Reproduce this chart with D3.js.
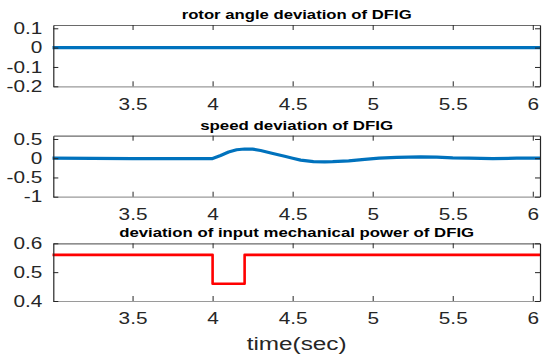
<!DOCTYPE html>
<html>
<head>
<meta charset="utf-8">
<script src="https://cdn.jsdelivr.net/npm/d3@7"></script>
<style>
  body { margin: 0; background: #fff; }
  svg { display: block; }
</style>
</head>
<body>
<svg width="543" height="355"></svg>
<script>
const svg = d3.select("svg");

// DATA
const xTicks = [3.5, 4, 4.5, 5, 5.5, 6];
const xTickLabels = ["3.5", "4", "4.5", "5", "5.5", "6"];

const angleTime = [3.0, 3.5, 4.0, 4.5, 5.0, 5.5, 6.05];
const angleDev = [0, 0, 0, 0, 0, 0, 0];
const angleTicks = [0.1, 0, -0.1, -0.2];
const angleTickLabels = ["0.1", "0", "-0.1", "-0.2"];

const speedTime = [3.0, 3.5, 3.9, 4.0, 4.05, 4.1, 4.15, 4.2, 4.25, 4.3, 4.37, 4.45, 4.5,
  4.55, 4.63, 4.7, 4.75, 4.85, 4.95, 5.04, 5.15, 5.3, 5.4, 5.5, 5.6, 5.75, 5.9, 6.05];
const speedDev = [0, -0.01, -0.01, -0.01, 0.07, 0.16, 0.22, 0.24, 0.235, 0.2, 0.13, 0.05, 0.0,
  -0.05, -0.09, -0.095, -0.09, -0.07, -0.03, 0.0, 0.02, 0.035, 0.03, 0.01, 0.0, -0.01, 0.0, 0.0];
const speedTicks = [0.5, 0, -0.5, -1];
const speedTickLabels = ["0.5", "0", "-0.5", "-1"];

const powerTime = [3.0, 4.0, 4.0, 4.2, 4.2, 6.05];
const powerDev = [0.56, 0.56, 0.46, 0.46, 0.56, 0.56];
const powerTicks = [0.6, 0.5, 0.4];
const powerTickLabels = ["0.6", "0.5", "0.4"];

const panels = [
  { title: "rotor angle deviation of DFIG", titleLen: 230, t: angleTime, v: angleDev,
    yDomain: [-0.2, 0.117], ticks: angleTicks, labels: angleTickLabels,
    top: 25, bottom: 86.3, color: "#0072BD", width: 3.2 },
  { title: "speed deviation of DFIG", titleLen: 193, t: speedTime, v: speedDev,
    yDomain: [-1, 0.585], ticks: speedTicks, labels: speedTickLabels,
    top: 135.7, bottom: 196.7, color: "#0072BD", width: 3.2 },
  { title: "deviation of input mechanical power of DFIG", titleLen: 355, t: powerTime, v: powerDev,
    yDomain: [0.4, 0.6], ticks: powerTicks, labels: powerTickLabels,
    top: 243.3, bottom: 301, color: "#FF0000", width: 2.6 }
];

const left = 53.3;
const right = 540;
const sx = 1.3; // text in the reference is stretched horizontally
const font = "'Liberation Sans', Arial, Helvetica, sans-serif";

const x = d3.scaleLinear().domain([3.005, 6.045]).range([left, right]);

panels.forEach(p => {
  const y = d3.scaleLinear().domain(p.yDomain).range([p.bottom, p.top]);
  const g = svg.append("g");

  // LINE
  g.append("path")
    .datum(p.t.map((t, i) => [t, p.v[i]]))
    .attr("fill", "none")
    .attr("stroke", p.color)
    .attr("stroke-width", p.width)
    .attr("stroke-linejoin", "round")
    .attr("d", d3.line().x(d => x(d[0])).y(d => y(d[1])));

  // AXES (box, ticks inward)
  const bottomAx = g.append("g")
    .attr("transform", `translate(0,${p.bottom})`)
    .call(d3.axisBottom(x).tickValues(xTicks).tickFormat((d, i) => xTickLabels[i])
      .tickSizeInner(-5).tickSizeOuter(0).tickPadding(12));
  bottomAx.select(".domain").attr("stroke", "#9a9a9a").attr("stroke-width", 1.2);

  const topAx = g.append("g")
    .attr("transform", `translate(0,${p.top})`)
    .call(d3.axisTop(x).tickValues(xTicks).tickFormat("")
      .tickSizeInner(-5).tickSizeOuter(0));
  topAx.select(".domain").attr("stroke", "#6a6a6a").attr("stroke-width", 1.2);

  const leftAx = g.append("g")
    .attr("transform", `translate(${left},0)`)
    .call(d3.axisLeft(y).tickValues(p.ticks).tickFormat((d, i) => p.labels[i])
      .tickSizeInner(-5).tickSizeOuter(0).tickPadding(11));

  const rightAx = g.append("g")
    .attr("transform", `translate(${right},0)`)
    .call(d3.axisRight(y).tickValues(p.ticks).tickFormat("")
      .tickSizeInner(-5).tickSizeOuter(0));

  [bottomAx, topAx, leftAx, rightAx].forEach(ax => {
    ax.selectAll(".tick line").attr("stroke", "#262626");
    ax.selectAll("text").attr("font-family", font).attr("font-size", 16).attr("fill", "#262626");
  });
  leftAx.select(".domain").attr("stroke", "#262626").attr("stroke-width", 1.2);
  rightAx.select(".domain").attr("stroke", "#262626").attr("stroke-width", 1.2);

  // stretch tick labels horizontally like the reference
  bottomAx.selectAll(".tick text").attr("transform", `scale(${sx},1)`);
  leftAx.selectAll(".tick text")
    .attr("x", -11 / sx)
    .attr("transform", `scale(${sx},1)`);

  // TITLE
  g.append("text")
    .attr("x", (left + right) / 2 - p.titleLen / 2)
    .attr("y", p.top - 6)
    .attr("font-family", font)
    .attr("font-weight", "bold")
    .attr("font-size", 12)
    .attr("fill", "#000")
    .attr("textLength", p.titleLen)
    .attr("lengthAdjust", "spacingAndGlyphs")
    .text(p.title);
});

// X LABEL
svg.append("text")
  .attr("x", (left + right) / 2 - 50)
  .attr("y", 350)
  .attr("font-family", font)
  .attr("font-size", 18)
  .attr("fill", "#262626")
  .attr("textLength", 100)
  .attr("lengthAdjust", "spacingAndGlyphs")
  .text("time(sec)");
</script>
</body>
</html>
